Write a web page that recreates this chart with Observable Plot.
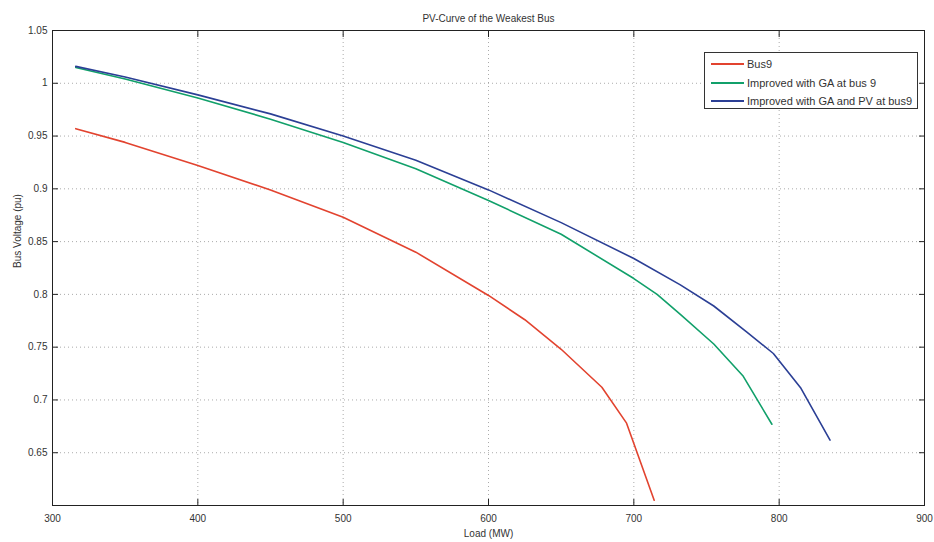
<!DOCTYPE html>
<html>
<head>
<meta charset="utf-8">
<script src="https://cdn.jsdelivr.net/npm/d3@7"></script>
<script src="https://cdn.jsdelivr.net/npm/@observablehq/plot@0.6"></script>
<style>
  html, body { margin: 0; padding: 0; background: #fff; }
  #wrap { position: relative; width: 934px; height: 542px; font-family: "Liberation Sans", Arial, sans-serif; }
  #legend { position: absolute; left: 704px; top: 52px; width: 214px; height: 57px; border: 1px solid #333; background: #fff; box-sizing: border-box; padding-top: 2px; }
  .row { display: flex; align-items: center; height: 18.5px; font-size: 11px; color: #333; }
  .sw { width: 33px; margin-left: 6px; margin-right: 3px; height: 0; border-top: 2px solid; }
</style>
</head>
<body>
<div id="wrap"></div>
<script>
const title = "PV-Curve of the Weakest Bus";
const xLabel = "Load (MW)";
const yLabel = "Bus Voltage (pu)";
const seriesNames = ["Bus9", "Improved with GA at bus 9", "Improved with GA and PV at bus9"];
const seriesColors = ["#e2432f", "#11a06a", "#2b3f95"];

const xTicks = [300, 400, 500, 600, 700, 800, 900];
const yTicks = [0.65, 0.7, 0.75, 0.8, 0.85, 0.9, 0.95, 1.0, 1.05];

const bus9Load = [316, 350, 400, 450, 500, 550, 600, 625, 650, 678, 695, 714];
const bus9V    = [0.957, 0.944, 0.922, 0.899, 0.873, 0.840, 0.799, 0.776, 0.748, 0.712, 0.678, 0.605];

const gaLoad = [316, 350, 400, 450, 500, 550, 600, 650, 700, 716, 732, 755, 775, 795];
const gaV    = [1.015, 1.004, 0.986, 0.966, 0.944, 0.919, 0.889, 0.857, 0.815, 0.800, 0.781, 0.753, 0.723, 0.677];

const gapvLoad = [316, 350, 400, 450, 500, 550, 600, 650, 700, 732, 755, 778, 796, 815, 835];
const gapvV    = [1.016, 1.006, 0.989, 0.971, 0.950, 0.927, 0.899, 0.868, 0.834, 0.809, 0.789, 0.764, 0.744, 0.711, 0.662];

const toRows = (name, xs, ys) => xs.map((x, i) => ({series: name, load: x, v: ys[i]}));
const data = [
  ...toRows(seriesNames[0], bus9Load, bus9V),
  ...toRows(seriesNames[1], gaLoad, gaV),
  ...toRows(seriesNames[2], gapvLoad, gapvV)
];

const innerX = xTicks.slice(1, -1);
const innerY = yTicks.slice(0, -1);
const fmtY = d => d === 1 ? "1" : String(d);
const xMin = xTicks[0], xMax = xTicks[xTicks.length - 1];
const yMin = 0.6, yMax = yTicks[yTicks.length - 1];
const tk = 6; // inward tick length in px
const tickOnly = {tickSize: tk, fill: "none", label: null, stroke: "#222"};

const chart = Plot.plot({
  width: 934,
  height: 542,
  marginLeft: 52,
  marginRight: 10,
  marginTop: 30,
  marginBottom: 37,
  style: {fontFamily: "'Liberation Sans', Arial, sans-serif", fontSize: "10px", color: "#333", background: "#fff"},
  x: {domain: [xMin, xMax]},
  y: {domain: [yMin, yMax]},
  color: {domain: seriesNames, range: seriesColors},
  marks: [
    Plot.gridX(innerX, {stroke: "#888", strokeOpacity: 0.7, strokeDasharray: "1,3"}),
    Plot.gridY(innerY, {stroke: "#888", strokeOpacity: 0.7, strokeDasharray: "1,3"}),
    Plot.line(data, {x: "load", y: "v", z: "series", stroke: "series", strokeWidth: 1.6, curve: "linear"}),
    Plot.frame({stroke: "#222", strokeWidth: 1}),
    // tick labels
    Plot.axisX(xTicks, {tickSize: 0, tickPadding: 9, label: null}),
    Plot.axisY(yTicks, {tickSize: 0, tickPadding: 5, label: null, tickFormat: fmtY}),
    // inward tick marks (MATLAB style)
    Plot.axisX(innerX, {anchor: "bottom", dy: -tk, ...tickOnly}),
    Plot.axisX(innerX, {anchor: "top", dy: tk, ...tickOnly}),
    Plot.axisY(innerY, {anchor: "left", dx: tk, ...tickOnly}),
    Plot.axisY(innerY, {anchor: "right", dx: -tk, ...tickOnly}),
    Plot.text([title], {frameAnchor: "top", dy: -16, fontSize: 10, fill: "#333"}),
    Plot.text([xLabel], {frameAnchor: "bottom", dy: 31, fontSize: 10, fill: "#333"}),
    Plot.text([yLabel], {frameAnchor: "left", dx: -35, rotate: -90, fontSize: 10, fill: "#333"})
  ]
});

const wrap = document.getElementById("wrap");
wrap.appendChild(chart);

const legend = document.createElement("div");
legend.id = "legend";
seriesNames.forEach((name, i) => {
  const row = document.createElement("div");
  row.className = "row";
  const sw = document.createElement("span");
  sw.className = "sw";
  sw.style.borderTopColor = seriesColors[i];
  const label = document.createElement("span");
  label.textContent = name;
  row.appendChild(sw);
  row.appendChild(label);
  legend.appendChild(row);
});
wrap.appendChild(legend);
</script>
</body>
</html>
